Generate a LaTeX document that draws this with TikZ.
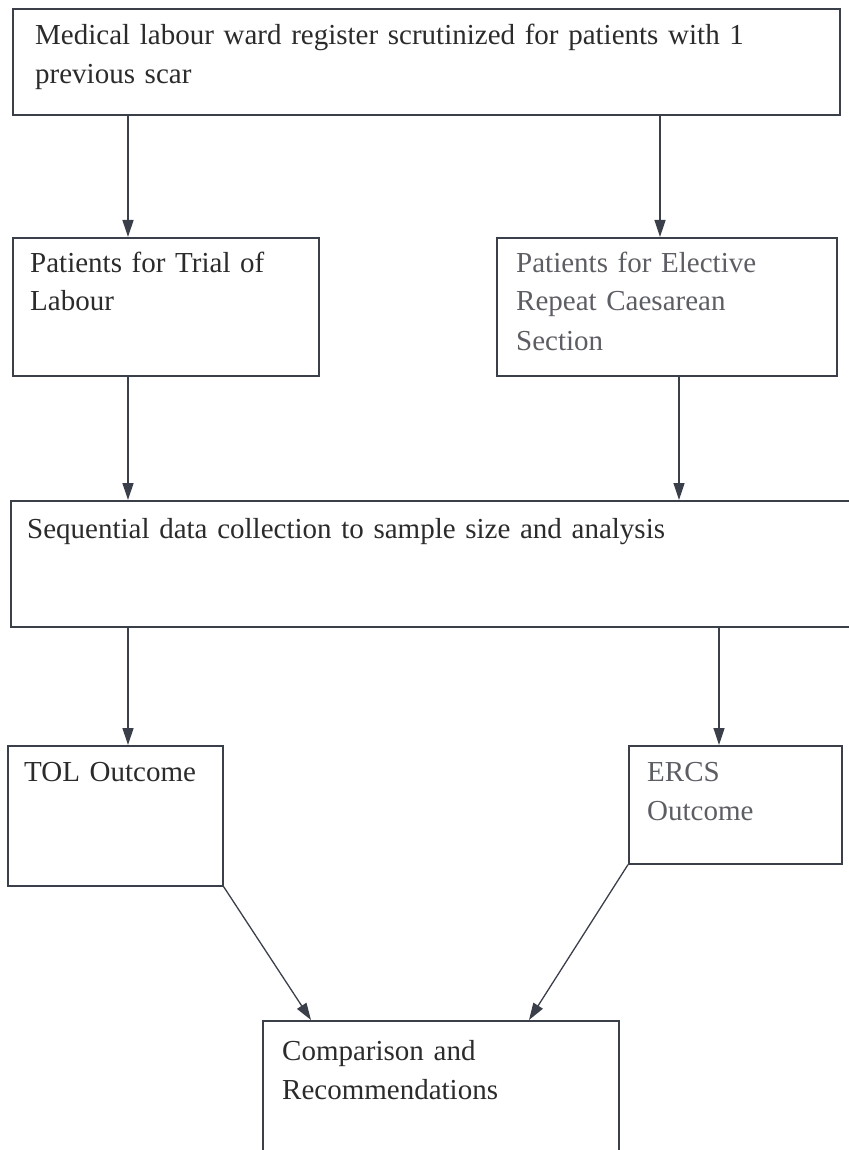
\documentclass[tikz,border=0pt]{standalone}
\usepackage{fontspec}
\setmainfont{Liberation Serif}
\usetikzlibrary{arrows.meta}
\definecolor{inkline}{HTML}{3A3F4A}
\definecolor{inktext}{HTML}{2B2B2B}
\definecolor{inkfaint}{HTML}{5C5E63}

\begin{document}
\begin{tikzpicture}[x=1pt, y=-1pt,
    box/.style={draw=inkline, line width=1.6pt, anchor=north west, inner sep=0pt},
    txt/.style={anchor=base west, text width=#1, align=left, inner sep=0pt,
        text=inktext, font=\fontsize{29}{39}\selectfont},
    arr/.style={draw=inkline, line width=1.3pt, -{Triangle[length=17pt,width=11pt]}}]
    \useasboundingbox (0,0) rectangle (848,1150);

    \node[box, minimum width=827pt, minimum height=106pt] (scar) at (12,8) {};
    \node[box, minimum width=306pt, minimum height=138pt] (trial) at (12,237) {};
    \node[box, minimum width=340pt, minimum height=138pt] (elective) at (496,237) {};
    \node[box, minimum width=850pt, minimum height=126pt] (seq) at (10,500) {};
    \node[box, minimum width=215pt, minimum height=140pt] (tol) at (7,745) {};
    \node[box, minimum width=213pt, minimum height=118pt] (ercs) at (628,745) {};
    \node[box, minimum width=356pt, minimum height=160pt] (comp) at (262,1020) {};

    \node[txt=790pt] (scartext) at ([xshift=23pt,yshift=-37pt]scar.north west)
        {Medical labour ward register scrutinized for patients with 1\\previous scar};
    \node[txt=280pt] (trialtext) at ([xshift=18pt,yshift=-35pt]trial.north west)
        {Patients for Trial of\\Labour};
    \node[txt=310pt, text=inkfaint] (electivetext) at ([xshift=20pt,yshift=-35pt]elective.north west)
        {Patients for Elective\\Repeat Caesarean\\Section};
    \node[txt=800pt] (seqtext) at ([xshift=17pt,yshift=-38pt]seq.north west)
        {Sequential data collection to sample size and analysis};
    \node[txt=190pt] (toltext) at ([xshift=17pt,yshift=-36pt]tol.north west)
        {TOL Outcome};
    \node[txt=190pt, text=inkfaint] (ercstext) at ([xshift=19pt,yshift=-36pt]ercs.north west)
        {ERCS\\Outcome};
    \node[txt=320pt] (comptext) at ([xshift=20pt,yshift=-40pt]comp.north west)
        {Comparison and\\Recommendations};

    \coordinate (colL) at (128,0);
    \coordinate (colA) at (660,0);
    \coordinate (colB) at (679,0);
    \coordinate (colC) at (719,0);

    \draw[arr] (scar.south -| colL) -- (trial.north -| colL);
    \draw[arr] (scar.south -| colA) -- (elective.north -| colA);
    \draw[arr] (trial.south -| colL) -- (seq.north -| colL);
    \draw[arr] (elective.south -| colB) -- (seq.north -| colB);
    \draw[arr] (seq.south -| colL) -- (tol.north -| colL);
    \draw[arr] (seq.south -| colC) -- (ercs.north -| colC);
    \draw[arr] (tol.south east) -- ([xshift=49pt]comp.north west);
    \draw[arr] (ercs.south west) -- ([xshift=267pt]comp.north west);
\end{tikzpicture}
\end{document}
